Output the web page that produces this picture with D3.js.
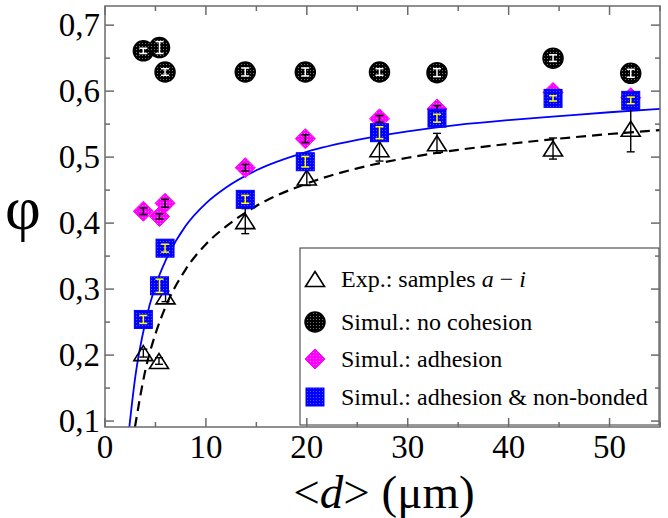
<!DOCTYPE html>
<html><head><meta charset="utf-8">
<script src="https://cdn.jsdelivr.net/npm/d3@7"></script>
<style>body{margin:0;background:#fff;} svg{display:block;}</style>
</head><body>
<svg id="c" width="668" height="518"></svg>
<script>
// ---- data ----
const xTicks = [0, 10, 20, 30, 40, 50];
const xMinor = [5, 15, 25, 35, 45, 55];
const yTicks = [0.1, 0.2, 0.3, 0.4, 0.5, 0.6, 0.7];
const yTickLabels = ["0,1", "0,2", "0,3", "0,4", "0,5", "0,6", "0,7"];
const yMinor = [0.15, 0.25, 0.35, 0.45, 0.55, 0.65];

const dExp   = [3.8, 5.35, 6.0, 13.9, 20.0, 27.2, 32.9, 44.4, 52.1];
const phiExp = [0.203, 0.191, 0.289, 0.403, 0.469, 0.512, 0.521, 0.513, 0.543];
const errExp = [0.006, 0.005, 0.008, 0.019, 0.012, 0.018, 0.015, 0.016, 0.035];

const dSim     = [3.8, 5.4, 5.95, 13.9, 19.85, 27.2, 32.9, 44.4, 52.1];
const phiNoCoh = [0.661, 0.666, 0.629, 0.629, 0.629, 0.629, 0.628, 0.650, 0.627];
const errNoCoh = [0.004, 0.009, 0.005, 0.006, 0.006, 0.005, 0.006, 0.005, 0.006];
const phiAdh   = [0.418, 0.410, 0.430, 0.484, 0.528, 0.558, 0.573, 0.598, 0.590];
const errAdh   = [0.005, 0.004, 0.006, 0.005, 0.006, 0.005, 0.005, 0.004, 0.005];
const phiAnb   = [0.254, 0.305, 0.362, 0.436, 0.493, 0.537, 0.559, 0.589, 0.586];
const errAnb   = [0.006, 0.010, 0.006, 0.006, 0.008, 0.009, 0.006, 0.004, 0.005];

// fit curves
const dFitBlue   = [2.4, 3, 4, 5, 6, 8, 10, 12, 15, 20, 25, 30, 35, 40, 45, 50, 55];
const phiFitBlue = [0.0895, 0.167, 0.250, 0.305, 0.343, 0.396, 0.430, 0.454, 0.480, 0.508, 0.526, 0.539, 0.549, 0.556, 0.562, 0.568, 0.573];
const dFitDash   = [2.97, 4, 5, 6, 8, 10, 12, 15, 20, 25, 30, 35, 40, 45, 50, 55];
const phiFitDash = [0.091, 0.177, 0.232, 0.273, 0.330, 0.368, 0.395, 0.426, 0.460, 0.483, 0.499, 0.511, 0.520, 0.528, 0.535, 0.541];

const legendLabels = ["Exp.: samples ", "Simul.: no cohesion", "Simul.: adhesion", "Simul.: adhesion & non-bonded"];

// ---- chart ----
const svg = d3.select("#c");
const L = 105, R = 660, T = 6, B = 427;
const x = d3.scaleLinear().domain([0, 55]).range([L, R]);
const y = d3.scaleLinear().domain([0.091, 0.729]).range([B, T]);
const FONT = "'Liberation Serif','DejaVu Serif',serif";
const axisCol = "#6b6b6b";

const defs = svg.append("defs");
function dotPattern(id, bg, fg) {
  const p = defs.append("pattern").attr("id", id).attr("patternUnits", "userSpaceOnUse")
    .attr("width", 3).attr("height", 3);
  p.append("rect").attr("width", 3).attr("height", 3).attr("fill", bg);
  p.append("rect").attr("x", 1).attr("y", 1).attr("width", 0.8).attr("height", 0.8).attr("fill", fg);
}
dotPattern("pBlack", "#000", "#bbb");
dotPattern("pMag", "#ff00ff", "#ffb0ff");
dotPattern("pBlue", "#0000ff", "#8c8cff");
defs.append("clipPath").attr("id", "plotClip").append("rect")
  .attr("x", L).attr("y", T).attr("width", R - L).attr("height", B - T);

// curves
const line = d3.line().x(d => x(d[0])).y(d => y(d[1])).curve(d3.curveMonotoneX);
const gC = svg.append("g").attr("clip-path", "url(#plotClip)");
gC.append("path").datum(dFitDash.map((d, i) => [d, phiFitDash[i]]))
  .attr("d", line).attr("fill", "none").attr("stroke", "#000").attr("stroke-width", 2.2)
  .attr("stroke-dasharray", "10,6");
gC.append("path").datum(dFitBlue.map((d, i) => [d, phiFitBlue[i]]))
  .attr("d", line).attr("fill", "none").attr("stroke", "#0000ff").attr("stroke-width", 1.8);

function errBar(g, cx, yv, e, col, w) {
  const y1 = y(yv - e), y2 = y(yv + e);
  g.append("line").attr("x1", cx).attr("x2", cx).attr("y1", y1).attr("y2", y2).attr("stroke", col).attr("stroke-width", w);
  g.append("line").attr("x1", cx - 4).attr("x2", cx + 4).attr("y1", y1).attr("y2", y1).attr("stroke", col).attr("stroke-width", w);
  g.append("line").attr("x1", cx - 4).attr("x2", cx + 4).attr("y1", y2).attr("y2", y2).attr("stroke", col).attr("stroke-width", w);
}
const triPath = (cx, cy) => `M${cx},${cy - 7.5}L${cx + 9.5},${cy + 7.5}L${cx - 9.5},${cy + 7.5}Z`;
const diaPath = (cx, cy) => `M${cx},${cy - 10}L${cx + 10},${cy}L${cx},${cy + 10}L${cx - 10},${cy}Z`;

// triangles
const gT = svg.append("g");
dExp.forEach((d, i) => {
  gT.append("path").attr("d", triPath(x(d), y(phiExp[i]))).attr("fill", "none").attr("stroke", "#000").attr("stroke-width", 1.6);
  errBar(gT, x(d), phiExp[i], errExp[i], "#000", 1.4);
});
// circles
const gO = svg.append("g");
dSim.forEach((d, i) => {
  gO.append("circle").attr("cx", x(d)).attr("cy", y(phiNoCoh[i])).attr("r", 10)
    .attr("fill", "url(#pBlack)").attr("stroke", "#000").attr("stroke-width", 1.5);
  errBar(gO, x(d), phiNoCoh[i], errNoCoh[i], "#fff", 1.5);
});
// diamonds
const gD = svg.append("g");
dSim.forEach((d, i) => {
  gD.append("path").attr("d", diaPath(x(d), y(phiAdh[i]))).attr("fill", "url(#pMag)").attr("stroke", "#ff00ff").attr("stroke-width", 1);
  errBar(gD, x(d), phiAdh[i], errAdh[i], "#000", 1.5);
});
// squares
const gS = svg.append("g");
dSim.forEach((d, i) => {
  gS.append("rect").attr("x", x(d) - 9).attr("y", y(phiAnb[i]) - 9).attr("width", 18).attr("height", 18)
    .attr("fill", "url(#pBlue)").attr("stroke", "#0000ff").attr("stroke-width", 1);
  errBar(gS, x(d), phiAnb[i], errAnb[i], "#ffff00", 1.5);
});

// legend
const lg = svg.append("g");
lg.append("rect").attr("x", 300).attr("y", 248).attr("width", 359).attr("height", 177)
  .attr("fill", "#fff").attr("stroke", "#333").attr("stroke-width", 1);
const rows = [279, 322, 359, 397];
lg.append("path").attr("d", triPath(315, rows[0])).attr("fill", "none").attr("stroke", "#000").attr("stroke-width", 1.6);
lg.append("circle").attr("cx", 315).attr("cy", rows[1]).attr("r", 10).attr("fill", "url(#pBlack)").attr("stroke", "#000").attr("stroke-width", 1.5);
lg.append("path").attr("d", diaPath(315, rows[2])).attr("fill", "url(#pMag)").attr("stroke", "#ff00ff");
lg.append("rect").attr("x", 306).attr("y", rows[3] - 9).attr("width", 18).attr("height", 18).attr("fill", "url(#pBlue)").attr("stroke", "#0000ff");
legendLabels.forEach((t, i) => {
  const tx = lg.append("text").attr("x", 341).attr("y", rows[i] + 8).attr("font-family", FONT)
    .attr("font-size", 24).attr("fill", "#000").text(t);
  if (i === 0) {
    tx.append("tspan").attr("font-style", "italic").text("a");
    tx.append("tspan").text(" \u2212 ");
    tx.append("tspan").attr("font-style", "italic").text("i");
  }
});

// frame & ticks
const ax = svg.append("g").attr("stroke", axisCol).attr("stroke-width", 1.5);
ax.append("rect").attr("x", L).attr("y", T).attr("width", R - L).attr("height", B - T).attr("fill", "none");
xTicks.forEach(v => {
  ax.append("line").attr("x1", x(v)).attr("x2", x(v)).attr("y1", B).attr("y2", B - 9);
  ax.append("line").attr("x1", x(v)).attr("x2", x(v)).attr("y1", T).attr("y2", T + 9);
});
xMinor.forEach(v => {
  ax.append("line").attr("x1", x(v)).attr("x2", x(v)).attr("y1", B).attr("y2", B - 5);
  ax.append("line").attr("x1", x(v)).attr("x2", x(v)).attr("y1", T).attr("y2", T + 5);
});
yTicks.forEach(v => {
  ax.append("line").attr("x1", L).attr("x2", L + 9).attr("y1", y(v)).attr("y2", y(v));
  ax.append("line").attr("x1", R).attr("x2", R - 9).attr("y1", y(v)).attr("y2", y(v));
});
yMinor.forEach(v => {
  ax.append("line").attr("x1", L).attr("x2", L + 5).attr("y1", y(v)).attr("y2", y(v));
  ax.append("line").attr("x1", R).attr("x2", R - 5).attr("y1", y(v)).attr("y2", y(v));
});

// tick labels
xTicks.forEach(v => {
  svg.append("text").attr("x", x(v)).attr("y", 458).attr("text-anchor", "middle")
    .attr("font-family", FONT).attr("font-size", 33).text(String(v));
});
yTicks.forEach((v, i) => {
  svg.append("text").attr("x", 100).attr("y", y(v) + 11).attr("text-anchor", "end")
    .attr("font-family", FONT).attr("font-size", 33).text(yTickLabels[i]);
});

// axis titles
const xt = svg.append("text").attr("x", 384).attr("y", 508).attr("text-anchor", "middle")
  .attr("font-family", FONT).attr("font-size", 47);
xt.append("tspan").text("<");
xt.append("tspan").attr("font-style", "italic").text("d");
xt.append("tspan").text("> (\u03bcm)");
svg.append("text").attr("x", 23).attr("y", 229).attr("text-anchor", "middle")
  .attr("font-family", FONT).attr("font-size", 62).text("\u03c6");
</script>
</body></html>
